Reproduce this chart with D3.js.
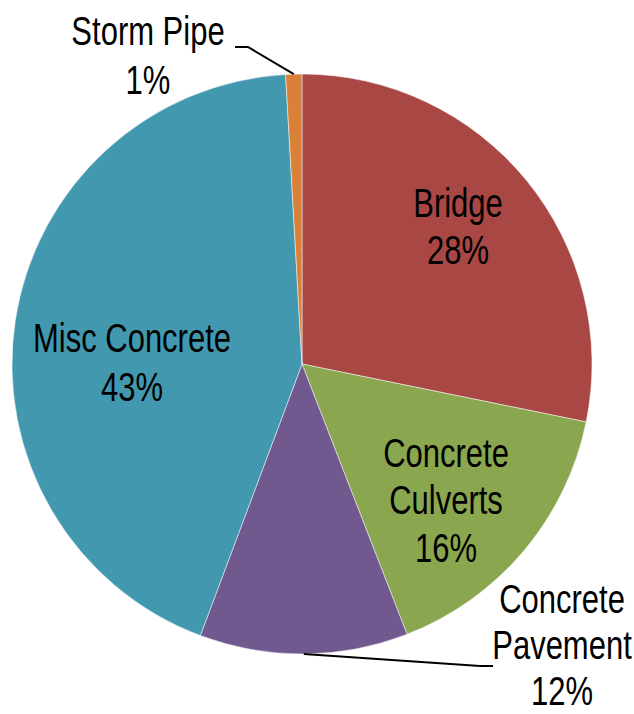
<!DOCTYPE html>
<html>
<head>
<meta charset="utf-8">
<script src="https://cdn.jsdelivr.net/npm/d3@7"></script>
<style>
  html, body { margin: 0; padding: 0; background: #fff; }
  text { font-family: "Liberation Sans", Arial, sans-serif; font-size: 40px; fill: #000; }
</style>
</head>
<body>
<script>
// data (clockwise from 12 o'clock)
var categories = ["Bridge", "Concrete Culverts", "Concrete Pavement", "Misc Concrete", "Storm Pipe"];
var values = [28.2, 15.9, 11.6, 43.4, 0.9];
var labelLines = [["Bridge"], ["Concrete", "Culverts"], ["Concrete", "Pavement"], ["Misc Concrete"], ["Storm Pipe"]];
var colors = ["#a94745", "#8aa64f", "#71598f", "#4298af", "#da8139"];

var w = 634, h = 714,
    cx = 302, cy = 364, r = 290;

// where each label block sits (centre x, first baseline, line step)
var labelPos = [
  {x: 458, y: 217, dy: 47.5},
  {x: 446, y: 467, dy: 47.5},
  {x: 562, y: 613, dy: 46},
  {x: 132, y: 352, dy: 49},
  {x: 148, y: 45, dy: 49}
];
var squeeze = 0.775; // the reference uses a condensed face

var svg = d3.select("body").append("svg")
    .attr("width", w)
    .attr("height", h);

var g = svg.append("g").attr("transform", "translate(" + cx + "," + cy + ")");

var pie = d3.pie().sort(null).value(function(d) { return d; });
var arcs = pie(values);
var arc = d3.arc().innerRadius(0).outerRadius(r);

g.selectAll(".slice")
    .data(arcs)
  .enter().append("path")
    .attr("class", "slice")
    .attr("d", arc)
    .attr("fill", function(d, i) { return colors[i]; })
    .attr("stroke", "#fff")
    .attr("stroke-width", 0.5);

/* leader lines for the two outside labels */
function edge(d, rr) {
  var a = (d.startAngle + d.endAngle) / 2;
  return [cx + rr * Math.sin(a), cy - rr * Math.cos(a)];
}
var leaders = [
  [[235, 47], [248, 47], edge(arcs[4], r)],
  [edge(arcs[2], r), [480, 666], [493, 666]]
];
svg.selectAll(".leader")
    .data(leaders)
  .enter().append("polyline")
    .attr("class", "leader")
    .attr("points", function(d) { return d.map(function(p) { return p.join(","); }).join(" "); })
    .attr("fill", "none")
    .attr("stroke", "#000")
    .attr("stroke-width", 2);

/* labels: name lines + rounded percentage */
var lbl = svg.selectAll(".lbl")
    .data(arcs)
  .enter().append("text")
    .attr("class", "lbl")
    .attr("text-anchor", "middle")
    .attr("transform", function(d, i) {
      return "translate(" + labelPos[i].x + "," + labelPos[i].y + ") scale(" + squeeze + ",1)";
    });

lbl.each(function(d, i) {
  var t = d3.select(this);
  var lines = labelLines[i].concat([Math.round(values[i]) + "%"]);
  lines.forEach(function(s, k) {
    t.append("tspan")
      .attr("x", 0)
      .attr("y", k * labelPos[i].dy)
      .text(s);
  });
});
</script>
</body>
</html>
